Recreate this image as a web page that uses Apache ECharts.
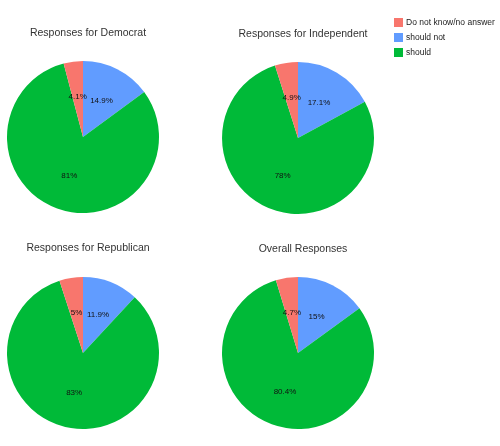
<!DOCTYPE html>
<html>
<head>
<meta charset="utf-8">
<script src="https://cdn.jsdelivr.net/npm/echarts@6/dist/echarts.min.js"></script>
<style>
  html, body { margin: 0; padding: 0; background: #fff; }
  #main { width: 500px; height: 446px; }
</style>
</head>
<body>
<div id="main"></div>
<script>
// data
var responses = ['should not', 'should', 'Do not know/no answer'];
var legendOrder = ['Do not know/no answer', 'should not', 'should'];
var colors = { 'Do not know/no answer': '#F8766D', 'should not': '#619CFF', 'should': '#00BA38' };
var groups = ['Responses for Democrat', 'Responses for Independent', 'Responses for Republican', 'Overall Responses'];
var democrat = [14.9, 81, 4.1];
var independent = [17.1, 78, 4.9];
var republican = [11.9, 83, 5];
var overall = [15, 80.4, 4.7];

var groupValues = [democrat, independent, republican, overall];
// pie centers (px) and title positions
var centers = [[83, 137], [298, 138], [83, 353], [298, 353]];
var titleTops = [23, 24, 238, 239];

var chart = echarts.init(document.getElementById('main'));

var titles = groups.map(function (g, i) {
    return {
        text: g,
        left: centers[i][0],
        top: titleTops[i],
        textAlign: 'center',
        textStyle: { fontSize: 10.5, fontWeight: 'normal', color: '#333', fontFamily: 'Liberation Sans, Arial' }
    };
});

var series = groupValues.map(function (vals, i) {
    return {
        type: 'pie',
        name: groups[i],
        center: centers[i],
        radius: 76,
        startAngle: 90,
        clockwise: true,
        silent: true,
        label: {
            show: true,
            position: 'inside',
            formatter: '{c}%',
            fontSize: 8,
            color: '#111',
            fontFamily: 'Liberation Sans, Arial'
        },
        labelLine: { show: false },
        itemStyle: { borderWidth: 0 },
        data: responses.map(function (r, j) {
            return { name: r, value: vals[j], itemStyle: { color: colors[r] } };
        })
    };
});

var option = {
    animation: false,
    title: titles,
    legend: {
        data: legendOrder,
        orient: 'vertical',
        left: 394,
        top: 18,
        padding: 0,
        itemWidth: 9,
        itemHeight: 9,
        itemGap: 6,
        icon: 'rect',
        textStyle: { fontSize: 8.5, color: '#222', fontFamily: 'Liberation Sans, Arial', padding: [0, 0, 0, -2] }
    },
    series: series
};
chart.setOption(option);
</script>
</body>
</html>
